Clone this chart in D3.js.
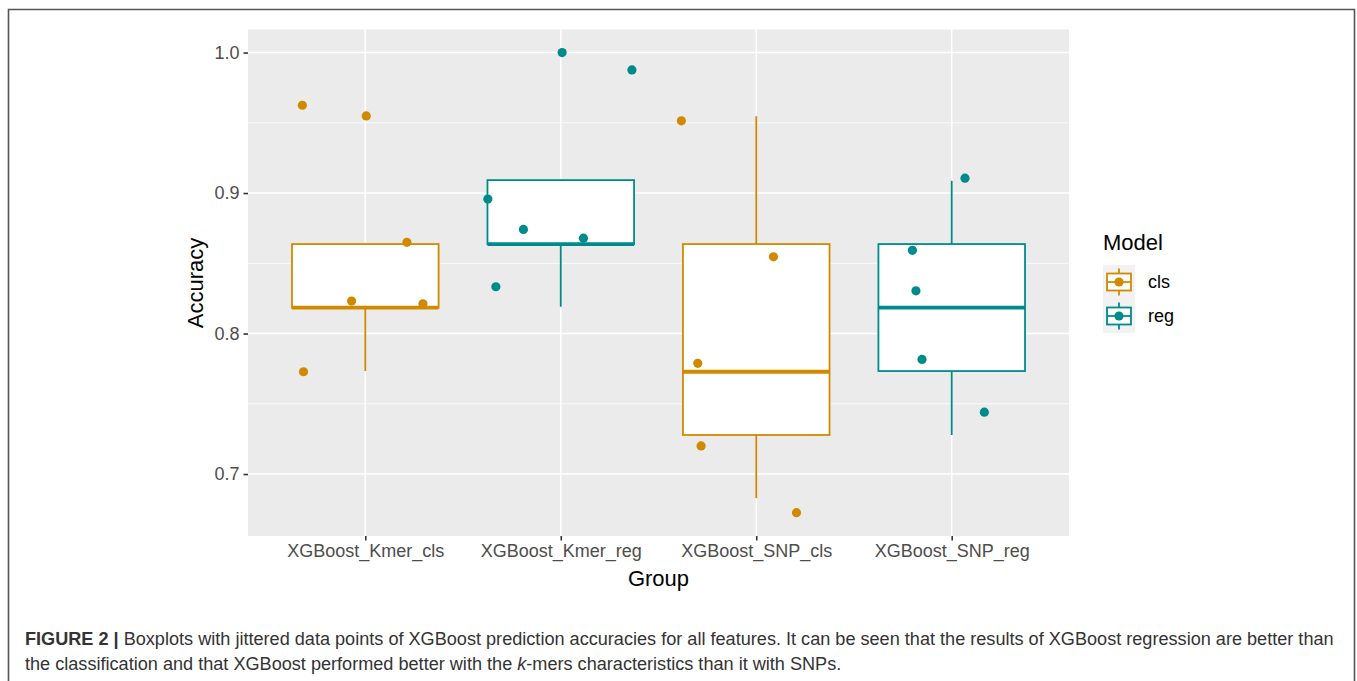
<!DOCTYPE html>
<html>
<head>
<meta charset="utf-8">
<script src="https://cdn.jsdelivr.net/npm/d3@7"></script>
<style>
  html, body { margin: 0; padding: 0; background: #fff; }
  svg { display: block; }
  text { font-family: "Liberation Sans", Arial, Helvetica, sans-serif; }
</style>
</head>
<body>
<svg id="chart" width="1357" height="681"></svg>
<script>
// ---------- data ----------
const groups = ["XGBoost_Kmer_cls", "XGBoost_Kmer_reg", "XGBoost_SNP_cls", "XGBoost_SNP_reg"];
const groupModel = ["cls", "reg", "cls", "reg"];
const models = ["cls", "reg"];
const modelColors = ["#D18A00", "#008B8B"];

// box statistics per group
const whiskerLow  = [0.7733, 0.8191, 0.6828, 0.7278];
const q1          = [0.8184, 0.8637, 0.7278, 0.7733];
const median      = [0.8184, 0.8637, 0.7728, 0.8184];
const q3          = [0.8637, 0.9092, 0.8637, 0.8637];
const whiskerHigh = [0.8637, 0.9092, 0.9547, 0.9087];

// jittered points
const pointGroup  = [0,0,0,0,0,0, 1,1,1,1,1,1, 2,2,2,2,2, 3,3,3,3,3];
const pointValue  = [0.9625, 0.9549, 0.8649, 0.8231, 0.8212, 0.7728,
                     1.0000, 0.9876, 0.8957, 0.8741, 0.8679, 0.8333,
                     0.9514, 0.8546, 0.7788, 0.7200, 0.6725,
                     0.9106, 0.8592, 0.8304, 0.7816, 0.7440];
const pointJitter = [-0.322, 0.005, 0.213, -0.070, 0.295, -0.316,
                      0.007, 0.364, -0.373, -0.191, 0.116, -0.332,
                     -0.383, 0.088, -0.299, -0.282, 0.206,
                      0.068, -0.201, -0.183, -0.152, 0.167];

const yMajor = [0.7, 0.8, 0.9, 1.0];
const yMinor = [0.75, 0.85, 0.95];

// ---------- layout ----------
const svg = d3.select("#chart");
const panel = { left: 248, right: 1069, top: 29.5, bottom: 536 };

const x = d3.scalePoint().domain(groups).range([panel.left, panel.right]).padding(0.6);
const step = x.step();
const y = d3.scaleLinear().domain([0.6559, 1.0164]).range([panel.bottom, panel.top]);
const color = d3.scaleOrdinal().domain(models).range(modelColors);

// figure frame
svg.append("path")
  .attr("d", "M8.5,690 V9.5 H1354.5 V690")
  .attr("fill", "none").attr("stroke", "#555").attr("stroke-width", 1.6);

// panel
svg.append("rect")
  .attr("x", panel.left).attr("y", panel.top)
  .attr("width", panel.right - panel.left).attr("height", panel.bottom - panel.top)
  .attr("fill", "#EBEBEB");

const grid = svg.append("g");
grid.selectAll(".minor").data(yMinor).join("line")
  .attr("x1", panel.left).attr("x2", panel.right)
  .attr("y1", d => y(d)).attr("y2", d => y(d))
  .attr("stroke", "#fff").attr("stroke-width", 0.8);
grid.selectAll(".major").data(yMajor).join("line")
  .attr("x1", panel.left).attr("x2", panel.right)
  .attr("y1", d => y(d)).attr("y2", d => y(d))
  .attr("stroke", "#fff").attr("stroke-width", 1.6);
grid.selectAll(".vmajor").data(groups).join("line")
  .attr("x1", d => x(d)).attr("x2", d => x(d))
  .attr("y1", panel.top).attr("y2", panel.bottom)
  .attr("stroke", "#fff").attr("stroke-width", 1.6);

// axes
const yAxis = svg.append("g")
  .attr("transform", `translate(${panel.left},0)`)
  .call(d3.axisLeft(y).tickValues(yMajor).tickFormat(d3.format(".1f")).tickSize(4.5).tickPadding(4));
const xAxis = svg.append("g")
  .attr("transform", `translate(0,${panel.bottom})`)
  .call(d3.axisBottom(x).tickSize(4.5).tickPadding(4));
[yAxis, xAxis].forEach(a => {
  a.select(".domain").remove();
  a.selectAll(".tick line").attr("stroke", "#333").attr("stroke-width", 1.6);
  a.selectAll(".tick text").attr("fill", "#4D4D4D").style("font-size", "18px")
    .style("font-family", "'Liberation Sans', Arial, sans-serif");
});

// boxplots
const bw = step * 0.75;
const boxes = svg.append("g").selectAll("g").data(groups).join("g")
  .attr("stroke", (d, i) => color(groupModel[i]));
boxes.append("line")
  .attr("x1", d => x(d)).attr("x2", d => x(d))
  .attr("y1", (d, i) => y(q3[i])).attr("y2", (d, i) => y(whiskerHigh[i]))
  .attr("stroke-width", 1.8);
boxes.append("line")
  .attr("x1", d => x(d)).attr("x2", d => x(d))
  .attr("y1", (d, i) => y(q1[i])).attr("y2", (d, i) => y(whiskerLow[i]))
  .attr("stroke-width", 1.8);
boxes.append("rect")
  .attr("x", d => x(d) - bw / 2).attr("width", bw)
  .attr("y", (d, i) => y(q3[i])).attr("height", (d, i) => y(q1[i]) - y(q3[i]))
  .attr("fill", "#fff").attr("stroke-width", 1.8);
boxes.append("line")
  .attr("x1", d => x(d) - bw / 2).attr("x2", d => x(d) + bw / 2)
  .attr("y1", (d, i) => y(median[i])).attr("y2", (d, i) => y(median[i]))
  .attr("stroke-width", 3.8);

// points
svg.append("g").selectAll("circle").data(pointValue).join("circle")
  .attr("cx", (d, i) => x(groups[pointGroup[i]]) + pointJitter[i] * step)
  .attr("cy", d => y(d))
  .attr("r", 4.6)
  .attr("fill", (d, i) => color(groupModel[pointGroup[i]]));

// axis titles
svg.append("text").attr("x", (panel.left + panel.right) / 2).attr("y", 586)
  .attr("text-anchor", "middle").style("font-size", "22px").attr("fill", "#000").text("Group");
svg.append("text").attr("transform", "translate(203,283) rotate(-90)")
  .attr("text-anchor", "middle").style("font-size", "22px").attr("fill", "#000").text("Accuracy");

// legend
const lg = svg.append("g").attr("transform", "translate(1103,0)");
lg.append("text").attr("x", 0).attr("y", 250).style("font-size", "22px").attr("fill", "#000").text("Model");
const keyW = 32, keyH = 34, keyTop = 265;
const keys = lg.selectAll(".key").data(models).join("g")
  .attr("transform", (d, i) => `translate(0,${keyTop + i * keyH})`);
keys.append("rect").attr("width", keyW).attr("height", keyH).attr("fill", "#F2F2F2");
keys.each(function(d) {
  const g = d3.select(this);
  const c = color(d);
  g.append("line").attr("x1", keyW / 2).attr("x2", keyW / 2).attr("y1", keyH * 0.1).attr("y2", keyH * 0.25)
    .attr("stroke", c).attr("stroke-width", 1.8);
  g.append("line").attr("x1", keyW / 2).attr("x2", keyW / 2).attr("y1", keyH * 0.75).attr("y2", keyH * 0.9)
    .attr("stroke", c).attr("stroke-width", 1.8);
  g.append("rect").attr("x", keyW * 0.125).attr("width", keyW * 0.75)
    .attr("y", keyH * 0.25).attr("height", keyH * 0.5)
    .attr("fill", "#fff").attr("stroke", c).attr("stroke-width", 1.8);
  g.append("line").attr("x1", keyW * 0.125).attr("x2", keyW * 0.875).attr("y1", keyH / 2).attr("y2", keyH / 2)
    .attr("stroke", c).attr("stroke-width", 1.8);
  g.append("circle").attr("cx", keyW / 2).attr("cy", keyH / 2).attr("r", 4.6).attr("fill", c);
});
keys.append("text").attr("x", 45).attr("y", keyH / 2 + 6)
  .style("font-size", "18px").attr("fill", "#000").text(d => d);

// caption
const cap = svg.append("g").attr("fill", "#333");
const l1 = cap.append("text").attr("x", 25).attr("y", 645);
l1.append("tspan").style("font-weight", "bold").text("FIGURE 2 | ");
l1.append("tspan").text("Boxplots with jittered data points of XGBoost prediction accuracies for all features. It can be seen that the results of XGBoost regression are better than");
const l2 = cap.append("text").attr("x", 25).attr("y", 670);
l2.append("tspan").text("the classification and that XGBoost performed better with the ");
l2.append("tspan").style("font-style", "italic").text("k");
l2.append("tspan").text("-mers characteristics than it with SNPs.");
cap.selectAll("text").style("font-size", "16px");
const len = l1.node().getComputedTextLength();
const fs = 16 * 1310 / len;
cap.selectAll("text").style("font-size", fs + "px");
</script>
</body>
</html>
